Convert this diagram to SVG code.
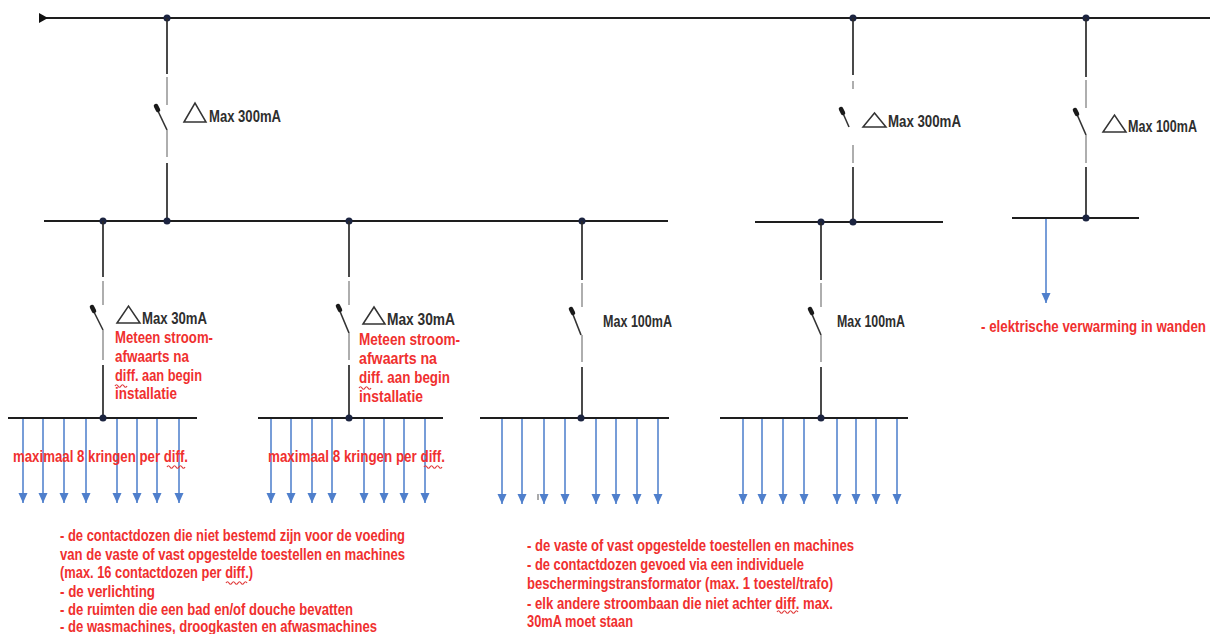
<svg xmlns="http://www.w3.org/2000/svg" width="1215" height="634" viewBox="0 0 1215 634">
<style>
.bus{stroke:#1e1e1e;stroke-width:2.2;fill:none}
.wire{stroke:#2a2a2a;stroke-width:1.7;fill:none}
.gray{stroke:#9a9a9a;stroke-width:1.6;fill:none}
.blade{stroke:#333;stroke-width:1.6;fill:none}
.tip{stroke:#1a1a1a;stroke-width:4.5;stroke-linecap:round;fill:none}
.dot{fill:#1c2440}
.tri{fill:none;stroke:#333;stroke-width:1.5;stroke-linejoin:miter}
.arr{stroke:#5585cf;stroke-width:1.6;fill:none;marker-end:url(#ah)}
.lbl{font-family:"Liberation Sans Narrow","Liberation Sans",sans-serif;font-weight:bold;font-size:16px;fill:#2e2e2e}
.red{font-family:"Liberation Sans Narrow","Liberation Sans",sans-serif;font-weight:bold;font-size:16px;fill:#f0302f}
.sq{stroke:#e03a3a;stroke-width:1.2;fill:none}
</style>
<defs>
<marker id="ah" viewBox="0 0 10 10" refX="10" refY="5" markerWidth="10" markerHeight="10" orient="auto" markerUnits="userSpaceOnUse">
<path d="M0,0.5 L10,5 L0,9.5 z" fill="#4f7fcc"/>
</marker>
</defs>

<g id="supply">
<line class="bus" x1="39" y1="18" x2="1210" y2="18"/>
<path d="M39,13 L48,18 L39,23 z" fill="#111"/>
<circle class="dot" cx="167" cy="18" r="3.5"/>
<circle class="dot" cx="853" cy="18" r="3.5"/>
<circle class="dot" cx="1086" cy="18" r="3.5"/>
</g>

<g id="diff-main-300-left">
<line class="wire" x1="167" y1="18" x2="167" y2="74"/>
<line class="gray" x1="167" y1="77" x2="167" y2="105"/>
<line class="blade" x1="157" y1="109" x2="167" y2="130"/>
<line class="tip" x1="156" y1="106" x2="158" y2="110"/>
<line class="gray" x1="167" y1="130" x2="167" y2="157"/>
<line class="wire" x1="167" y1="163" x2="167" y2="221"/>
<path class="tri" d="M184,122 L195,103 L206,122 z"/>
<text class="lbl" x="209" y="122" textLength="72" lengthAdjust="spacingAndGlyphs">Max 300mA</text>
</g>

<g id="diff-main-300-right">
<line class="wire" x1="853" y1="18" x2="853" y2="75"/>
<line class="gray" x1="853" y1="81" x2="853" y2="89"/>
<line class="blade" x1="842" y1="111" x2="849" y2="127"/>
<line class="tip" x1="841" y1="109" x2="843" y2="113"/>
<line class="gray" x1="853" y1="145" x2="853" y2="163"/>
<line class="wire" x1="853" y1="167" x2="853" y2="222"/>
<path class="tri" d="M863,127 L874.5,113 L886,127 z"/>
<text class="lbl" x="888" y="127" textLength="73" lengthAdjust="spacingAndGlyphs">Max 300mA</text>
</g>

<g id="diff-main-100">
<line class="wire" x1="1086" y1="18" x2="1086" y2="77"/>
<line class="gray" x1="1086" y1="80" x2="1086" y2="108"/>
<line class="blade" x1="1076" y1="112" x2="1086" y2="135"/>
<line class="tip" x1="1075" y1="110" x2="1077" y2="114"/>
<line class="gray" x1="1086" y1="135" x2="1086" y2="163"/>
<line class="wire" x1="1086" y1="167" x2="1086" y2="218"/>
<path class="tri" d="M1103,132 L1114.5,115 L1126,132 z"/>
<text class="lbl" x="1128" y="132" textLength="69" lengthAdjust="spacingAndGlyphs">Max 100mA</text>
</g>

<g id="bus-a">
<line class="bus" x1="44" y1="221" x2="668" y2="221"/>
<circle class="dot" cx="103" cy="221" r="3.5"/>
<circle class="dot" cx="167" cy="221" r="3.5"/>
<circle class="dot" cx="349" cy="221" r="3.5"/>
<circle class="dot" cx="582" cy="221" r="3.5"/>
</g>

<g id="bus-b">
<line class="bus" x1="755" y1="222" x2="943" y2="222"/>
<circle class="dot" cx="821" cy="222" r="3.5"/>
<circle class="dot" cx="853" cy="222" r="3.5"/>
</g>

<g id="bus-c">
<line class="bus" x1="1012" y1="218" x2="1139" y2="218"/>
<circle class="dot" cx="1086" cy="218" r="3.5"/>
<text class="red" x="1206" y="332" text-anchor="end" textLength="225" lengthAdjust="spacingAndGlyphs">- elektrische verwarming in wanden</text>
</g>

<g id="diff-30-a">
<line class="wire" x1="103" y1="221" x2="103" y2="277"/>
<line class="gray" x1="103" y1="281" x2="103" y2="305"/>
<line class="blade" x1="93" y1="310" x2="103" y2="330"/>
<line class="tip" x1="92" y1="307" x2="94" y2="311"/>
<line class="gray" x1="103" y1="330" x2="103" y2="360"/>
<line class="wire" x1="103" y1="365" x2="103" y2="418"/>
<path class="tri" d="M117,323 L128.5,306 L140,323 z"/>
<text class="lbl" x="142" y="324" textLength="65" lengthAdjust="spacingAndGlyphs">Max 30mA</text>
<text class="red" x="115" y="343" textLength="98" lengthAdjust="spacingAndGlyphs">Meteen stroom-</text>
<text class="red" x="115" y="362" textLength="74" lengthAdjust="spacingAndGlyphs">afwaarts na</text>
<text class="red" x="115" y="381" textLength="87" lengthAdjust="spacingAndGlyphs">diff. aan begin</text>
<text class="red" x="115" y="399" textLength="62" lengthAdjust="spacingAndGlyphs">installatie</text>
<path class="sq" d="M115,386 q1.5,-2.5 3,0 t3,0 t3,0 t3,0"/>
</g>

<g id="diff-30-b">
<line class="wire" x1="349" y1="221" x2="349" y2="277"/>
<line class="gray" x1="349" y1="281" x2="349" y2="305"/>
<line class="blade" x1="339" y1="309" x2="349" y2="333"/>
<line class="tip" x1="338" y1="306" x2="340" y2="310"/>
<line class="gray" x1="349" y1="333" x2="349" y2="360"/>
<line class="wire" x1="349" y1="365" x2="349" y2="418"/>
<path class="tri" d="M363,324 L374,307 L385,324 z"/>
<text class="lbl" x="387" y="325" textLength="68" lengthAdjust="spacingAndGlyphs">Max 30mA</text>
<text class="red" x="359" y="345" textLength="101" lengthAdjust="spacingAndGlyphs">Meteen stroom-</text>
<text class="red" x="359" y="364" textLength="78" lengthAdjust="spacingAndGlyphs">afwaarts na</text>
<text class="red" x="359" y="383" textLength="91" lengthAdjust="spacingAndGlyphs">diff. aan begin</text>
<text class="red" x="359" y="402" textLength="64" lengthAdjust="spacingAndGlyphs">installatie</text>
<path class="sq" d="M359,388 q1.5,-2.5 3,0 t3,0 t3,0 t3,0"/>
</g>

<g id="diff-100-a">
<line class="wire" x1="582" y1="221" x2="582" y2="280"/>
<line class="gray" x1="582" y1="283" x2="582" y2="307"/>
<line class="blade" x1="572" y1="312" x2="581" y2="335"/>
<line class="tip" x1="571" y1="309" x2="573" y2="313"/>
<line class="gray" x1="582" y1="335" x2="582" y2="362"/>
<line class="wire" x1="582" y1="367" x2="582" y2="418"/>
<text class="lbl" x="603" y="327" textLength="69" lengthAdjust="spacingAndGlyphs">Max 100mA</text>
</g>

<g id="diff-100-b">
<line class="wire" x1="821" y1="222" x2="821" y2="280"/>
<line class="gray" x1="821" y1="283" x2="821" y2="307"/>
<line class="blade" x1="811" y1="312" x2="821" y2="335"/>
<line class="tip" x1="810" y1="309" x2="812" y2="313"/>
<line class="gray" x1="821" y1="335" x2="821" y2="362"/>
<line class="wire" x1="821" y1="367" x2="821" y2="418"/>
<text class="lbl" x="837" y="327" textLength="68" lengthAdjust="spacingAndGlyphs">Max 100mA</text>
</g>

<g id="bus-l1">
<line class="bus" x1="8" y1="418" x2="197" y2="418"/>
<circle class="dot" cx="103" cy="418" r="3.5"/>
</g>
<g id="bus-l2">
<line class="bus" x1="258" y1="418" x2="443" y2="418"/>
<circle class="dot" cx="349" cy="418" r="3.5"/>
</g>
<g id="bus-l3">
<line class="bus" x1="480" y1="418" x2="669" y2="418"/>
<circle class="dot" cx="581" cy="418" r="3.5"/>
</g>
<g id="bus-l4">
<line class="bus" x1="720" y1="418" x2="908" y2="418"/>
<circle class="dot" cx="821" cy="418" r="3.5"/>
</g>

<g id="connectors">
<line class="arr" x1="1046" y1="219" x2="1046" y2="303"/>
<line class="arr" x1="23" y1="419" x2="23" y2="503"/>
<line class="arr" x1="43" y1="419" x2="43" y2="503"/>
<line class="arr" x1="64" y1="419" x2="64" y2="503"/>
<line class="arr" x1="86" y1="419" x2="86" y2="503"/>
<line class="arr" x1="117" y1="419" x2="117" y2="503"/>
<line class="arr" x1="137" y1="419" x2="137" y2="503"/>
<line class="arr" x1="157" y1="419" x2="157" y2="503"/>
<line class="arr" x1="179" y1="419" x2="179" y2="503"/>
<line class="arr" x1="271" y1="419" x2="271" y2="503"/>
<line class="arr" x1="291" y1="419" x2="291" y2="503"/>
<line class="arr" x1="312" y1="419" x2="312" y2="503"/>
<line class="arr" x1="332" y1="419" x2="332" y2="503"/>
<line class="arr" x1="364" y1="419" x2="364" y2="503"/>
<line class="arr" x1="384" y1="419" x2="384" y2="503"/>
<line class="arr" x1="404" y1="419" x2="404" y2="503"/>
<line class="arr" x1="425" y1="419" x2="425" y2="503"/>
<line class="arr" x1="502" y1="419" x2="502" y2="504"/>
<line class="arr" x1="522" y1="419" x2="522" y2="504"/>
<line class="arr" x1="544" y1="419" x2="544" y2="504"/>
<line class="arr" x1="565" y1="419" x2="565" y2="504"/>
<line class="arr" x1="596" y1="419" x2="596" y2="504"/>
<line class="arr" x1="616" y1="419" x2="616" y2="504"/>
<line class="arr" x1="637" y1="419" x2="637" y2="504"/>
<line class="arr" x1="658" y1="419" x2="658" y2="504"/>
<line class="arr" x1="743" y1="419" x2="743" y2="504"/>
<line class="arr" x1="762" y1="419" x2="762" y2="504"/>
<line class="arr" x1="783" y1="419" x2="783" y2="504"/>
<line class="arr" x1="804" y1="419" x2="804" y2="504"/>
<line class="arr" x1="837" y1="419" x2="837" y2="504"/>
<line class="arr" x1="856" y1="419" x2="856" y2="504"/>
<line class="arr" x1="876" y1="419" x2="876" y2="504"/>
<line class="arr" x1="897" y1="419" x2="897" y2="504"/>
<line x1="538" y1="494" x2="538" y2="500" stroke="#555" stroke-width="1"/>
</g>

<g id="note-kringen">
<text class="red" x="13" y="462" textLength="175" lengthAdjust="spacingAndGlyphs">maximaal 8 kringen per diff.</text>
<path class="sq" d="M167,467 q1.5,-2.5 3,0 t3,0 t3,0 t3,0 t3,0 t3,0"/>
<text class="red" x="268" y="462" textLength="177" lengthAdjust="spacingAndGlyphs">maximaal 8 kringen per diff.</text>
<path class="sq" d="M424,467 q1.5,-2.5 3,0 t3,0 t3,0 t3,0 t3,0 t3,0"/>
</g>

<g id="note-30ma">
<text class="red" x="60" y="541" textLength="345" lengthAdjust="spacingAndGlyphs">- de contactdozen die niet bestemd zijn voor de voeding</text>
<text class="red" x="60" y="560" textLength="345" lengthAdjust="spacingAndGlyphs">van de vaste of vast opgestelde toestellen en machines</text>
<text class="red" x="60" y="578" textLength="193" lengthAdjust="spacingAndGlyphs">(max. 16 contactdozen per diff.)</text>
<text class="red" x="60" y="597" textLength="95" lengthAdjust="spacingAndGlyphs">- de verlichting</text>
<text class="red" x="60" y="615" textLength="293" lengthAdjust="spacingAndGlyphs">- de ruimten die een bad en/of douche bevatten</text>
<text class="red" x="60" y="632" textLength="317" lengthAdjust="spacingAndGlyphs">- de wasmachines, droogkasten en afwasmachines</text>
<path class="sq" d="M226,583 q1.5,-2.5 3,0 t3,0 t3,0 t3,0 t3,0 t3,0 t3,0"/>
</g>

<g id="note-100ma">
<text class="red" x="527" y="551" textLength="327" lengthAdjust="spacingAndGlyphs">- de vaste of vast opgestelde toestellen en machines</text>
<text class="red" x="527" y="570" textLength="277" lengthAdjust="spacingAndGlyphs">- de contactdozen gevoed via een individuele</text>
<text class="red" x="527" y="589" textLength="306" lengthAdjust="spacingAndGlyphs">beschermingstransformator (max. 1 toestel/trafo)</text>
<text class="red" x="527" y="609" textLength="306" lengthAdjust="spacingAndGlyphs">- elk andere stroombaan die niet achter diff. max.</text>
<text class="red" x="527" y="627" textLength="106" lengthAdjust="spacingAndGlyphs">30mA moet staan</text>
<path class="sq" d="M777,612 q1.5,-2.5 3,0 t3,0 t3,0 t3,0 t3,0 t3,0 t3,0"/>
</g>
</svg>
